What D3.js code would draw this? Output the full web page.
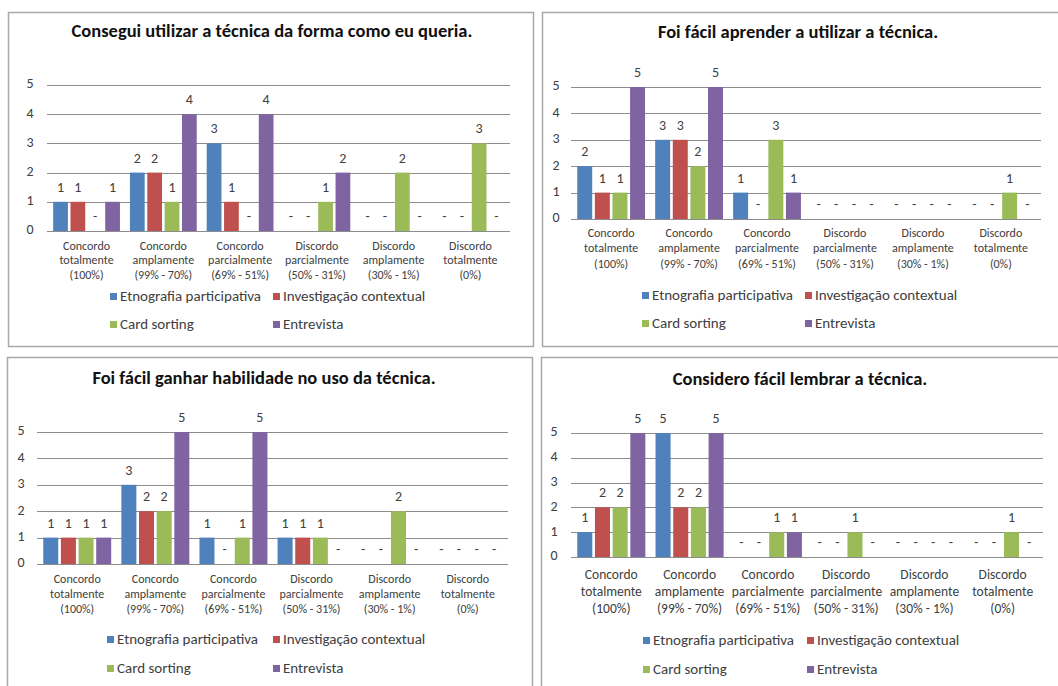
<!DOCTYPE html>
<html>
<head>
<meta charset="utf-8">
<script src="https://cdn.jsdelivr.net/npm/d3@7"></script>
<style>
  body { margin: 0; background: #fff; }
  text { font-family: Carlito, Lato, "Open Sans", sans-serif; }
</style>
</head>
<body>
<div id="chart"></div>
<script>
// categories (one entry per line of the axis label)
const categories = [
  ["Concordo", "totalmente", "(100%)"],
  ["Concordo", "amplamente", "(99% - 70%)"],
  ["Concordo", "parcialmente", "(69% - 51%)"],
  ["Discordo", "parcialmente", "(50% - 31%)"],
  ["Discordo", "amplamente", "(30% - 1%)"],
  ["Discordo", "totalmente", "(0%)"]
];
const seriesNames = ["Etnografia participativa", "Investigação contextual", "Card sorting", "Entrevista"];
const seriesColors = ["#4F81BD", "#C0504D", "#9BBB59", "#8064A2"];
const yTicks = [0, 1, 2, 3, 4, 5];

const titles = [
  "Consegui utilizar a técnica da forma como eu queria.",
  "Foi fácil aprender a utilizar a técnica.",
  "Foi fácil ganhar habilidade no uso da técnica.",
  "Considero fácil lembrar a técnica."
];

// values: one row per series, one column per category
const valuesUtilizar = [
  [1, 2, 3, 0, 0, 0],
  [1, 2, 1, 0, 0, 0],
  [0, 1, 0, 1, 2, 3],
  [1, 4, 4, 2, 0, 0]
];
const valuesAprender = [
  [2, 3, 1, 0, 0, 0],
  [1, 3, 0, 0, 0, 0],
  [1, 2, 3, 0, 0, 1],
  [5, 5, 1, 0, 0, 0]
];
const valuesHabilidade = [
  [1, 3, 1, 1, 0, 0],
  [1, 2, 0, 1, 0, 0],
  [1, 2, 1, 1, 2, 0],
  [1, 5, 5, 0, 0, 0]
];
const valuesLembrar = [
  [1, 5, 0, 0, 0, 0],
  [2, 2, 0, 0, 0, 0],
  [2, 2, 1, 1, 0, 1],
  [5, 5, 1, 0, 0, 0]
];
const panelValues = [valuesUtilizar, valuesAprender, valuesHabilidade, valuesLembrar];

// layout of the four chart boxes
const layouts = [
  {box: [8, 12, 525, 334], x0: 47, x1: 510, yTop: 85, yBase: 231, titleX: 272, titleY: 33,
   tickX: 30, catY: 247, catSize: 12, catGap: 14.5, legY: [297, 325], legX: [113, 276]},
  {box: [542, 12, 530, 334], x0: 571, x1: 1041, yTop: 87, yBase: 219, titleX: 798, titleY: 34,
   tickX: 556, catY: 234, catSize: 12, catGap: 15.5, legY: [296, 324], legX: [645, 808]},
  {box: [7, 357, 525, 340], x0: 37, x1: 508, yTop: 432, yBase: 564, titleX: 264, titleY: 380,
   tickX: 21, catY: 580, catSize: 12, catGap: 15, legY: [640, 669], legX: [110, 276]},
  {box: [541, 357, 530, 340], x0: 571, x1: 1043, yTop: 433, yBase: 557, titleX: 800, titleY: 381,
   tickX: 554, catY: 576, catSize: 13.5, catGap: 17, legY: [641, 670], legX: [646, 810]}
];

const svg = d3.select("#chart").append("svg")
  .attr("width", 1058)
  .attr("height", 686);

function drawPanel(i) {
  const L = layouts[i];
  const data = panelValues[i];
  const g = svg.append("g");

  g.append("rect")
    .attr("x", L.box[0] + 0.5).attr("y", L.box[1] + 0.5)
    .attr("width", L.box[2]).attr("height", L.box[3])
    .attr("fill", "#fff")
    .attr("stroke", "#a8a8a8")
    .attr("stroke-width", 1.5);

  g.append("text")
    .attr("x", L.titleX).attr("y", L.titleY)
    .attr("text-anchor", "middle")
    .attr("dominant-baseline", "middle")
    .style("font-size", "18.5px")
    .style("font-weight", "bold")
    .attr("fill", "#111")
    .text(titles[i]);

  const y = d3.scaleLinear().domain([0, 5]).range([L.yBase, L.yTop]);
  const xCat = d3.scaleBand().domain(d3.range(categories.length))
    .range([L.x0, L.x1]).paddingInner(0.13).paddingOuter(0.08);
  const xSub = d3.scaleBand().domain(d3.range(seriesNames.length))
    .range([0, xCat.bandwidth()]).paddingInner(0.15);

  // gridlines
  g.selectAll("line.grid").data(yTicks).join("line")
    .attr("class", "grid")
    .attr("x1", L.x0).attr("x2", L.x1)
    .attr("y1", d => Math.round(y(d)) + 0.5).attr("y2", d => Math.round(y(d)) + 0.5)
    .attr("stroke", "#8c8c8c").attr("stroke-width", 1);

  g.selectAll("text.ytick").data(yTicks).join("text")
    .attr("class", "ytick")
    .attr("x", L.tickX).attr("y", d => y(d))
    .attr("text-anchor", "middle")
    .attr("dominant-baseline", "middle")
    .style("font-size", "14px")
    .attr("fill", "#404040")
    .text(d => d);

  // bars
  const flat = [];
  data.forEach((row, s) => row.forEach((v, c) => flat.push({s, c, v})));

  g.selectAll("rect.bar").data(flat.filter(d => d.v > 0)).join("rect")
    .attr("class", "bar")
    .attr("x", d => xCat(d.c) + xSub(d.s))
    .attr("y", d => y(d.v))
    .attr("width", xSub.bandwidth())
    .attr("height", d => y(0) - y(d.v))
    .attr("fill", d => seriesColors[d.s]);

  g.selectAll("text.val").data(flat).join("text")
    .attr("class", "val")
    .attr("x", d => xCat(d.c) + xSub(d.s) + xSub.bandwidth() / 2)
    .attr("y", d => y(d.v) - 10)
    .attr("text-anchor", "middle")
    .style("font-size", "14px")
    .attr("fill", "#404040")
    .text(d => d.v === 0 ? "-" : d.v);

  // category labels
  const cat = g.selectAll("text.cat").data(categories).join("text")
    .attr("class", "cat")
    .attr("text-anchor", "middle")
    .style("font-size", L.catSize + "px")
    .attr("fill", "#404040");
  cat.selectAll("tspan").data((d, c) => d.map(t => ({t, c}))).join("tspan")
    .attr("x", d => xCat(d.c) + xCat.bandwidth() / 2)
    .attr("y", (d, k) => L.catY + k * L.catGap)
    .attr("dominant-baseline", "middle")
    .text(d => d.t);

  // legend
  seriesNames.forEach((name, s) => {
    const lx = L.legX[s % 2];
    const ly = L.legY[Math.floor(s / 2)];
    g.append("rect")
      .attr("x", lx - 3).attr("y", ly - 4)
      .attr("width", 7).attr("height", 7)
      .attr("fill", seriesColors[s]);
    g.append("text")
      .attr("x", lx + 7).attr("y", ly)
      .attr("dominant-baseline", "middle")
      .style("font-size", "15px")
      .attr("fill", "#404040")
      .text(name);
  });
}

for (let i = 0; i < 4; i++) drawPanel(i);
</script>
</body>
</html>
